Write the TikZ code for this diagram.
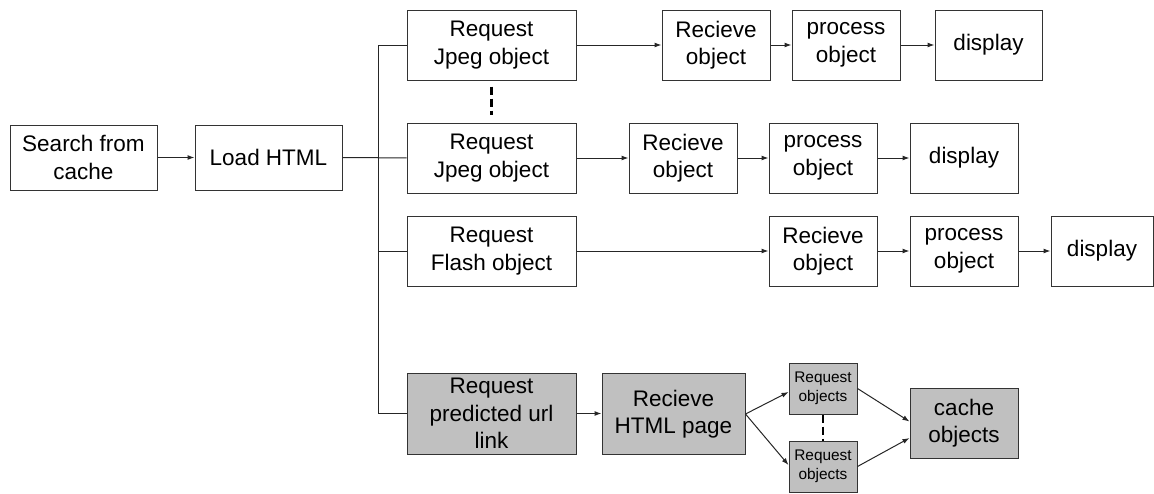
\documentclass[tikz,border=0pt]{standalone}
\usepackage{fontspec}
\setmainfont{Liberation Sans}
\usetikzlibrary{arrows.meta}
\definecolor{boxgray}{HTML}{C0C0C0}
\begin{document}
\begin{tikzpicture}[x=1pt,y=-1pt,
  box/.style={draw=black!80, line width=1pt, fill=white, align=center,
    inner sep=0pt, font=\fontsize{22.5}{27.5}\selectfont},
  gbox/.style={box, fill=boxgray},
  smallbox/.style={gbox, font=\fontsize{15.4}{19}\selectfont},
  link/.style={line width=1pt, draw=black!85},
  flow/.style={link, -{Latex[length=7pt,width=5pt]}},
  gap/.style={line width=2.6pt, draw=black, dash pattern=on 8pt off 4pt}]
\useasboundingbox (0,0) rectangle (1154,493);

% start of the page load
\node[box, minimum width=147pt, minimum height=65pt] (search) at (83.5,157.5) {Search from\\cache};
\node[box, minimum width=147pt, minimum height=65pt] (load) at (268.5,157.5) {Load HTML};

% first Jpeg object
\node[box, minimum width=169pt, minimum height=70pt] (jpgA) at (491.5,45) {Request\\Jpeg object};
\node[box, minimum width=108pt, minimum height=70pt] (rcvA) at (716,45) {Recieve\\object};
\node[box, minimum width=108pt, minimum height=70pt] (procA) at (846,45) {process\\object};
\node[box, minimum width=107pt, minimum height=70pt] (dispA) at (988.5,45) {display};

% last Jpeg object
\node[box, minimum width=169pt, minimum height=70pt] (jpgB) at (491.5,158) {Request\\Jpeg object};
\node[box, minimum width=108pt, minimum height=70pt] (rcvB) at (683,158) {Recieve\\object};
\node[box, minimum width=108pt, minimum height=70pt] (procB) at (823,158) {process\\object};
\node[box, minimum width=108pt, minimum height=70pt] (dispB) at (964,158) {display};

% Flash object
\node[box, minimum width=169pt, minimum height=70pt] (flash) at (491.5,251) {Request\\Flash object};
\node[box, minimum width=108pt, minimum height=70pt] (rcvC) at (823,251) {Recieve\\object};
\node[box, minimum width=108pt, minimum height=70pt] (procC) at (964,251) {process\\object};
\node[box, minimum width=102pt, minimum height=70pt] (dispC) at (1102,251) {display};

% prefetching of the predicted link
\node[gbox, minimum width=169pt, minimum height=81pt] (pred) at (491.5,413.5) {Request\\predicted url\\link};
\node[gbox, minimum width=143pt, minimum height=81pt] (page) at (673.5,414) {Recieve\\HTML page};
\node[smallbox, minimum width=68pt, minimum height=51pt] (objA) at (823,388.5) {Request\\objects};
\node[smallbox, minimum width=68pt, minimum height=51pt] (objB) at (823,466.5) {Request\\objects};
\node[gbox, minimum width=108pt, minimum height=70pt] (cache) at (964,423) {cache\\objects};

% branching bus
\coordinate (busTop) at (378,45);
\coordinate (busFlash) at (378,251);
\coordinate (busBot) at (378,413.5);
\draw[link] (load) -- (jpgB);
\draw[link] (jpgA.west) -- (busTop) -- (busBot) -- (pred.west);
\draw[link] (busFlash) -- (flash.west);

% flows
\draw[flow] (search) -- (load);
\draw[flow] (jpgA) -- (rcvA);
\draw[flow] (rcvA) -- (procA);
\draw[flow] (procA) -- (dispA);
\draw[flow] (jpgB) -- (rcvB);
\draw[flow] (rcvB) -- (procB);
\draw[flow] (procB) -- (dispB);
\draw[flow] (flash) -- (rcvC);
\draw[flow] (rcvC) -- (procC);
\draw[flow] (procC) -- (dispC);
\draw[flow] (pred.east) -- (page.west |- pred.east);
\draw[flow] (page.east) -- ([yshift=-3.5pt]objA.west);
\draw[flow] (page.east) -- ([yshift=1.5pt]objB.west);
\draw[flow] (objA.east) -- ([yshift=1.5pt]cache.west);
\draw[flow] (objB.east) -- ([yshift=-15pt]cache.west);

% elided repetitions
\draw[gap] ([yshift=-6pt]jpgA.south) -- ([yshift=8pt]jpgB.north);
\draw[gap] (objA.south) -- (objB.north);
\end{tikzpicture}
\end{document}
